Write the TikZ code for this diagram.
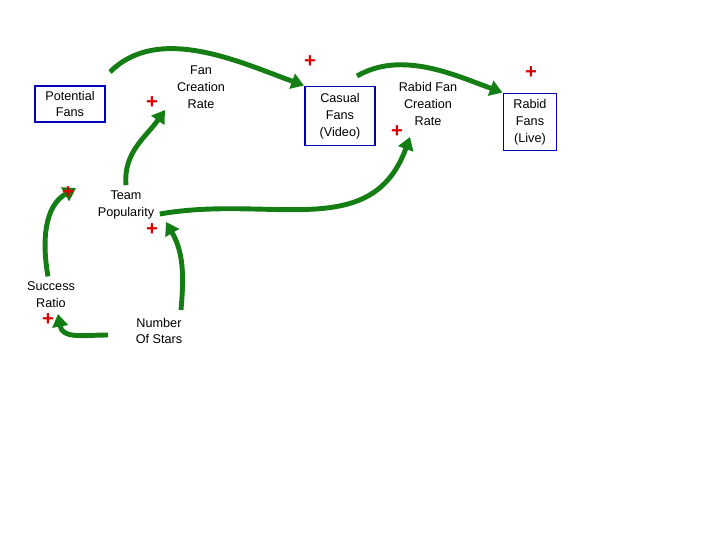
\documentclass[tikz,border=0pt]{standalone}
\usepackage{fontspec}
\setmainfont{Liberation Sans}
\usetikzlibrary{arrows.meta}
\definecolor{linkgreen}{RGB}{20,125,20}
\tikzset{
	stock/.style={draw=blue!70!black, line width=1.4pt, fill=white, align=center, font=\fontsize{9}{12}\selectfont, inner sep=3pt},
	aux/.style={align=center, font=\fontsize{9}{12}\selectfont, inner sep=1pt},
	link/.style={linkgreen, line width=3.5pt, -{Triangle[length=9pt,width=11pt]}},
	plus/.style={red!85!black, font=\bfseries\Large, inner sep=0pt}
}
\begin{document}
\begin{tikzpicture}[x=0.025cm,y=-0.025cm]
	\useasboundingbox (0,0) rectangle (720,540);
	\node[stock, minimum width=70*0.025cm, minimum height=36*0.025cm] (potential) at (70,104) {Potential\\Fans};
	\node[aux] (fanrate) at (201,87) {Fan\\Creation\\Rate};
	\node[stock, minimum width=70*0.025cm, minimum height=59*0.025cm] (casual) at (340,116) {Casual\\Fans\\(Video)};
	\node[aux] (rabidrate) at (428,104) {Rabid Fan\\Creation\\Rate};
	\node[stock, minimum width=53*0.025cm, minimum height=57*0.025cm] (rabid) at (530,122) {Rabid\\Fans\\(Live)};
	\node[aux] (popularity) at (126,205) {Team\\Popularity};
	\node[aux] (success) at (51,295) {Success\\Ratio};
	\node[aux] (stars) at (159,331) {Number\\Of Stars};
	% flows
	\coordinate (f1s) at (110,72);
	\coordinate (f2s) at (357,76);
	\draw[link] (f1s) to [out=45,in=160,looseness=0.9] (casual.north west);
	\draw[link] (f2s) to [out=30,in=160,looseness=0.9] (rabid.north west);
	% links
	\draw[link] (popularity.north) ++(0,-4) to [out=95,in=235] (165,110);
	\draw[link] (popularity.east) ++(4,9) to [out=10,in=250,looseness=1.1] (410,137);
	\draw[link] (success.north) ++(-3,-4) to [out=100,in=210] (76,188);
	\draw[link] (108,335) to [out=180,in=280,looseness=1.2] (58,314);
	\draw[link] (181,310) to [out=85,in=300] (166,222);
	% signs
	\foreach \p in {(152,103),(310,62),(531,73),(397,132),(68,193),(152,230),(48,320)}
		\node[plus] at \p {+};
\end{tikzpicture}
\end{document}
